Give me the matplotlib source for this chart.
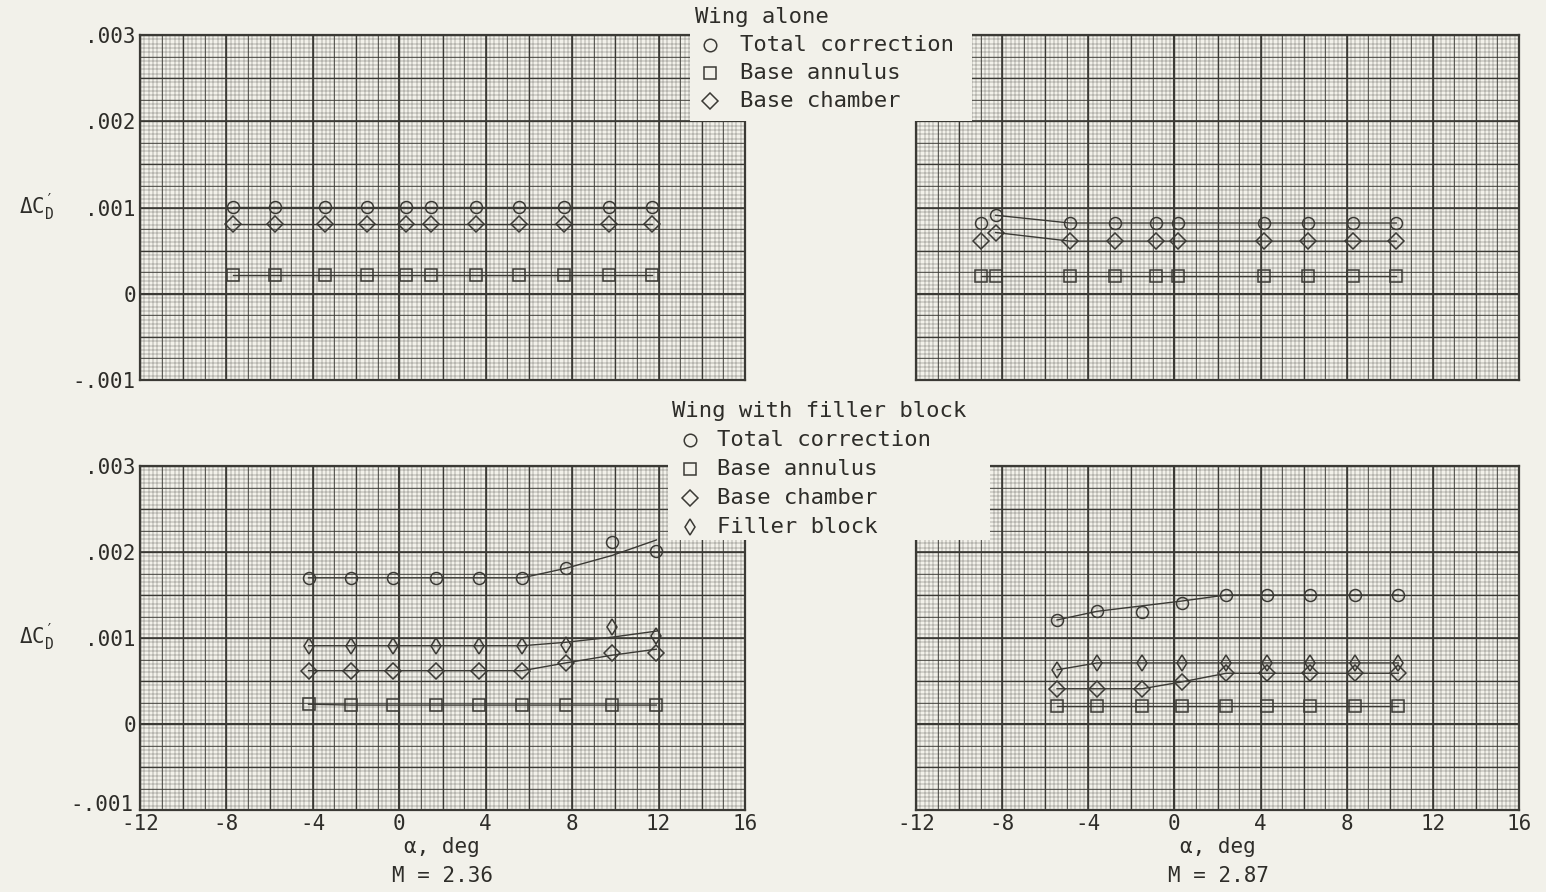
import numpy as np
import matplotlib
matplotlib.use('Agg')
import matplotlib.pyplot as plt
from matplotlib.patches import Rectangle
from matplotlib.transforms import ScaledTranslation

plt.rcParams['font.family'] = ['DejaVu Sans Mono']
plt.rcParams['mathtext.default'] = 'regular'
plt.rcParams['axes.unicode_minus'] = False

PAPER = '#f2f1ea'
INK = '#3b3a35'

# ---------------------------------------------------------------------------
# data (alpha in deg, delta C_D')
# wing alone, M = 2.36
alpha_wa_236 = [-7.7, -5.75, -3.45, -1.5, 0.3, 1.45, 3.55, 5.55, 7.6, 9.7, 11.7]
total_wa_236 = [0.00101, 0.00101, 0.00101, 0.00101, 0.00101, 0.00101,
                0.00101, 0.00101, 0.00101, 0.00101, 0.00101]
annulus_wa_236 = [0.00022, 0.00022, 0.00022, 0.00022, 0.00022, 0.00022,
                  0.00022, 0.00022, 0.00022, 0.00022, 0.00022]
chamber_wa_236 = [0.00081, 0.00081, 0.00081, 0.00081, 0.00081, 0.00081,
                  0.00081, 0.00081, 0.00081, 0.00081, 0.00081]

# wing alone, M = 2.87
alpha_wa_287 = [-9.0, -8.3, -4.85, -2.75, -0.85, 0.15, 4.15, 6.2, 8.3, 10.3]
total_wa_287 = [0.00082, 0.00091, 0.00082, 0.00082, 0.00082, 0.00082,
                0.00082, 0.00082, 0.00082, 0.00082]
annulus_wa_287 = [0.00021, 0.00021, 0.00021, 0.00021, 0.00021, 0.00021,
                  0.00021, 0.00021, 0.00021, 0.00021]
chamber_wa_287 = [0.00061, 0.00071, 0.00061, 0.00061, 0.00061, 0.00061,
                  0.00061, 0.00061, 0.00061, 0.00061]

# wing with filler block, M = 2.36
alpha_fb_236 = [-4.2, -2.25, -0.3, 1.7, 3.7, 5.7, 7.7, 9.85, 11.9]
total_fb_236 = [0.0017, 0.0017, 0.0017, 0.0017, 0.0017, 0.0017, 0.00181, 0.00212, 0.00201]
annulus_fb_236 = [0.00023, 0.00022, 0.00022, 0.00022, 0.00022, 0.00022, 0.00022, 0.00022, 0.00022]
chamber_fb_236 = [0.00062, 0.00062, 0.00062, 0.00062, 0.00062, 0.00062, 0.00071, 0.00082, 0.00083]
filler_fb_236 = [0.00091, 0.00091, 0.00091, 0.00091, 0.00091, 0.00091, 0.00092, 0.00113, 0.00102]
# faired curves
fair_x_236 = [-4.2, 5.7, 7.7, 9.85, 11.9]
fair_total_236 = [0.0017, 0.0017, 0.00181, 0.00196, 0.00214]
fair_chamber_236 = [0.00062, 0.00062, 0.00071, 0.0008, 0.00087]
fair_filler_236 = [0.00091, 0.00091, 0.00095, 0.00101, 0.00108]

# wing with filler block, M = 2.87
alpha_fb_287 = [-5.45, -3.6, -1.5, 0.35, 2.4, 4.3, 6.3, 8.4, 10.4]
total_fb_287 = [0.00121, 0.00131, 0.0013, 0.00141, 0.0015, 0.0015, 0.0015, 0.0015, 0.0015]
annulus_fb_287 = [0.00021, 0.00021, 0.00021, 0.00021, 0.00021, 0.00021, 0.00021, 0.00021, 0.00021]
chamber_fb_287 = [0.00041, 0.00041, 0.00041, 0.00049, 0.00059, 0.00059, 0.00059, 0.00059, 0.00059]
filler_fb_287 = [0.00063, 0.00071, 0.00071, 0.00071, 0.00071, 0.00071, 0.00071, 0.00071, 0.00071]
fair_x_287 = [-5.45, -3.6, 0.35, 2.4, 10.4]
fair_total_287 = [0.00121, 0.00131, 0.00143, 0.0015, 0.0015]

x_ticks = [-12, -8, -4, 0, 4, 8, 12, 16]
y_ticks = [-0.001, 0, 0.001, 0.002, 0.003]
y_tick_labels = ['-.001', '0', '.001', '.002', '.003']
# ---------------------------------------------------------------------------

W, H = 1546, 892
fig = plt.figure(figsize=(W / 100, H / 100), dpi=100, facecolor=PAPER)


def px_axes(l, t, r, b):
    return fig.add_axes([l / W, 1 - b / H, (r - l) / W, (b - t) / H])


def graph_paper(ax):
    ax.set_xlim(-12, 16)
    ax.set_ylim(-0.001, 0.003)
    ax.set_facecolor(PAPER)
    kw = dict(color=INK, zorder=0)
    ax.vlines(np.linspace(-12, 16, 141), -0.001, 0.003, lw=0.35, alpha=0.7, **kw)
    ax.hlines(np.linspace(-0.001, 0.003, 81), -12, 16, lw=0.35, alpha=0.7, **kw)
    ax.vlines(np.linspace(-12, 16, 29), -0.001, 0.003, lw=0.6, alpha=0.9, **kw)
    ax.hlines(np.linspace(-0.001, 0.003, 17), -12, 16, lw=0.6, alpha=0.9, **kw)
    ax.vlines(np.linspace(-12, 16, 15), -0.001, 0.003, lw=0.95, **kw)
    ax.hlines(np.linspace(-0.001, 0.003, 9), -12, 16, lw=0.95, **kw)
    ax.vlines(x_ticks, -0.001, 0.003, lw=1.15, **kw)
    ax.hlines(y_ticks, -12, 16, lw=1.15, **kw)
    ax.axvline(0, color=INK, lw=1.5, zorder=0)
    ax.axhline(0, color=INK, lw=1.5, zorder=0)
    for s in ax.spines.values():
        s.set_color(INK)
        s.set_linewidth(1.6)
    ax.set_xticks(x_ticks)
    ax.set_yticks(y_ticks)
    ax.set_yticklabels(y_tick_labels)
    ax.tick_params(length=0, labelsize=15, colors='#2e2d29', pad=3)


def series(ax, x, y, marker, ms, lx=None, ly=None):
    ax.plot(x if lx is None else lx, y if ly is None else ly,
            color=INK, lw=1.0, zorder=3)
    ax.plot(x, y, ls='none', marker=marker, ms=ms, mfc='none',
            mec=INK, mew=1.1, zorder=4)


ax1 = px_axes(140, 35, 745, 380)
ax2 = px_axes(916, 35, 1519, 380)
ax3 = px_axes(140, 466, 745, 810)
ax4 = px_axes(916, 466, 1519, 810)
for ax in (ax1, ax2, ax3, ax4):
    graph_paper(ax)
for ax in (ax1, ax2):
    ax.tick_params(labelbottom=False)
for ax in (ax2, ax4):
    ax.tick_params(labelleft=False)

# lift the lowest y label of the bottom-left panel a little so it clears "-12"
lbl = ax3.get_yticklabels()[0]
lbl.set_transform(lbl.get_transform() + ScaledTranslation(-2 / 72, 5 / 72, fig.dpi_scale_trans))

# wing alone, M = 2.36
series(ax1, alpha_wa_236, total_wa_236, 'o', 8.6)
series(ax1, alpha_wa_236, chamber_wa_236, 'D', 8.0)
series(ax1, alpha_wa_236, annulus_wa_236, 's', 8.2)

# wing alone, M = 2.87
series(ax2, alpha_wa_287, total_wa_287, 'o', 8.6, alpha_wa_287[1:], total_wa_287[1:])
series(ax2, alpha_wa_287, chamber_wa_287, 'D', 8.0, alpha_wa_287[1:], chamber_wa_287[1:])
series(ax2, alpha_wa_287, annulus_wa_287, 's', 8.2)

# filler block, M = 2.36
series(ax3, alpha_fb_236, total_fb_236, 'o', 8.6, fair_x_236, fair_total_236)
series(ax3, alpha_fb_236, filler_fb_236, 'd', 8.0, fair_x_236, fair_filler_236)
series(ax3, alpha_fb_236, chamber_fb_236, 'D', 8.0, fair_x_236, fair_chamber_236)
series(ax3, alpha_fb_236, annulus_fb_236, 's', 8.2)

# filler block, M = 2.87
series(ax4, alpha_fb_287, total_fb_287, 'o', 8.6, fair_x_287, fair_total_287)
series(ax4, alpha_fb_287, filler_fb_287, 'd', 8.0)
series(ax4, alpha_fb_287, chamber_fb_287, 'D', 8.0)
series(ax4, alpha_fb_287, annulus_fb_287, 's', 8.2)

# overlay in pixel coordinates for legends and labels
lax = fig.add_axes([0, 0, 1, 1], zorder=10)
lax.set_xlim(0, W)
lax.set_ylim(H, 0)
lax.axis('off')
lax.patch.set_alpha(0)

lax.add_patch(Rectangle((690, 0), 282, 120.5, fc=PAPER, ec='none'))
lax.add_patch(Rectangle((668, 395), 322, 145, fc=PAPER, ec='none'))

txt = dict(fontsize=16, color='#2e2d29', va='center', ha='left')
mk = dict(ls='none', mfc='none', mec=INK, mew=1.1)

lax.text(695, 17, 'Wing alone', **txt)
for yy, m, ms, lab in [(45, 'o', 9, 'Total correction'),
                       (73, 's', 8, 'Base annulus'),
                       (101, 'D', 8, 'Base chamber')]:
    lax.plot([710], [yy], marker=m, ms=ms, **mk)
    lax.text(740, yy, lab, **txt)

lax.text(672, 411, 'Wing with filler block', **txt)
for yy, m, ms, lab in [(440, 'o', 9, 'Total correction'),
                       (469, 's', 8, 'Base annulus'),
                       (498, 'D', 8, 'Base chamber'),
                       (527, 'd', 8, 'Filler block')]:
    lax.plot([690], [yy], marker=m, ms=ms, **mk)
    lax.text(717, yy, lab, **txt)

ylab = dict(fontsize=15, color='#2e2d29', va='center', ha='center')
lax.text(37, 207, r'$\Delta C_D^{\prime}$', **ylab)
lax.text(37, 637, r'$\Delta C_D^{\prime}$', **ylab)

xl = dict(fontsize=15, color='#2e2d29', va='center', ha='center')
lax.text(442, 847, 'α, deg', **xl)
lax.text(442, 876, 'M = 2.36', **xl)
lax.text(1218, 847, 'α, deg', **xl)
lax.text(1218, 876, 'M = 2.87', **xl)

fig.savefig('out.png', dpi=100, facecolor=PAPER)
